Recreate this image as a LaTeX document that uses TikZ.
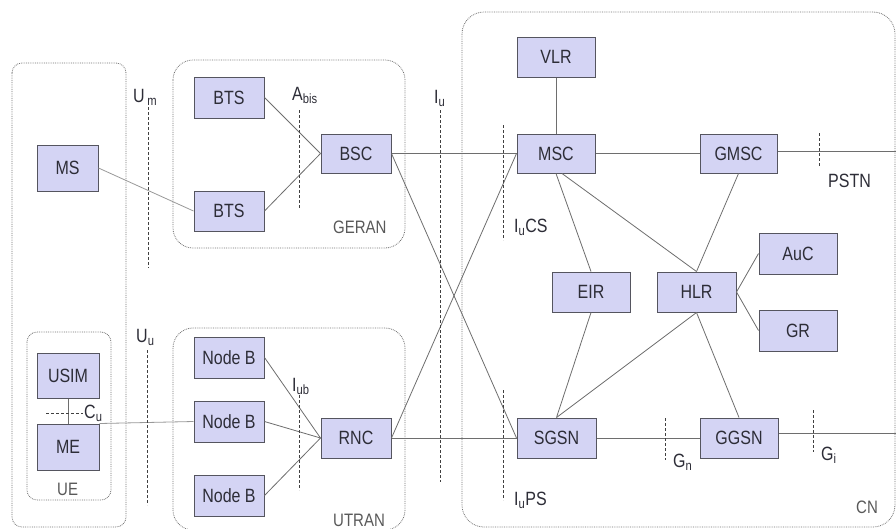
\documentclass[tikz,border=0pt]{standalone}
\usepackage{fontspec}
\usepackage{graphicx}
\setmainfont{Liberation Sans}
\definecolor{boxfill}{RGB}{212,212,244}
\definecolor{boxline}{RGB}{85,85,95}
\definecolor{wire}{RGB}{110,110,110}
\definecolor{labtext}{RGB}{45,45,55}
\newcommand{\tx}[1]{\scalebox{1}[1.2]{#1}}
\begin{document}
\begin{tikzpicture}[x=1pt,y=-1pt,
  nbox/.style={draw=boxline,fill=boxfill,line width=1pt,inner sep=0pt,
    text=labtext,font=\fontsize{16}{18}\selectfont},
  wline/.style={draw=wire,line width=0.8pt},
  ifdash/.style={draw=black!75,line width=0.9pt,dash pattern=on 3pt off 2pt},
  cont/.style={draw=black!55,line width=0.8pt,densely dotted},
  lab/.style={anchor=base west,inner sep=0pt,text=labtext,font=\fontsize{16}{18}\selectfont},
  clab/.style={anchor=base west,inner sep=0pt,text=black!65,font=\fontsize{15}{16}\selectfont}]
\useasboundingbox (0,0) rectangle (896,528);
\fill[white] (0,0) rectangle (896,528);
% containers
\draw[cont,rounded corners=10pt] (12,63) rectangle (126,527);
\draw[cont,rounded corners=10pt] (27,332) rectangle (111,500);
\draw[cont,rounded corners=20pt] (173,60) rectangle (405,248);
\draw[cont,rounded corners=20pt] (173,328) rectangle (405,530);
\draw[cont,rounded corners=22pt] (462,12) rectangle (895,527);
% nodes
\node[nbox,minimum width=61pt,minimum height=46pt] (MS) at (67.5,168) {\tx{MS}};
\node[nbox,minimum width=70pt,minimum height=41pt] (BTS1) at (229,97.5) {\tx{BTS}};
\node[nbox,minimum width=70pt,minimum height=40pt] (BTS2) at (229,211) {\tx{BTS}};
\node[nbox,minimum width=70pt,minimum height=39pt] (BSC) at (356,153.5) {\tx{BSC}};
\node[nbox,minimum width=62pt,minimum height=45pt] (USIM) at (68,375.5) {\tx{USIM}};
\node[nbox,minimum width=62pt,minimum height=46pt] (ME) at (68,447) {\tx{ME}};
\node[nbox,minimum width=70pt,minimum height=41pt] (NB1) at (229,357.5) {\tx{Node B}};
\node[nbox,minimum width=70pt,minimum height=41pt] (NB2) at (229,421.5) {\tx{Node B}};
\node[nbox,minimum width=70pt,minimum height=41pt] (NB3) at (229,495.5) {\tx{Node B}};
\node[nbox,minimum width=70pt,minimum height=40pt] (RNC) at (356,438) {\tx{RNC}};
\node[nbox,minimum width=78pt,minimum height=40pt] (VLR) at (556,57) {\tx{VLR}};
\node[nbox,minimum width=78pt,minimum height=39pt] (MSC) at (556,153.5) {\tx{MSC}};
\node[nbox,minimum width=77pt,minimum height=39pt] (GMSC) at (738.5,153.5) {\tx{GMSC}};
\node[nbox,minimum width=78pt,minimum height=41pt] (AuC) at (798,253.5) {\tx{AuC}};
\node[nbox,minimum width=78pt,minimum height=40pt] (EIR) at (591,292) {\tx{EIR}};
\node[nbox,minimum width=79pt,minimum height=40pt] (HLR) at (696.5,292) {\tx{HLR}};
\node[nbox,minimum width=78pt,minimum height=41pt] (GR) at (798,330.5) {\tx{GR}};
\node[nbox,minimum width=79pt,minimum height=40pt] (SGSN) at (556.5,438) {\tx{SGSN}};
\node[nbox,minimum width=78pt,minimum height=40pt] (GGSN) at (739,438) {\tx{GGSN}};
\coordinate (pstnend) at (896,151);
\coordinate (giend) at (896,433);
% connectors
\draw[wline,draw=black!40] (MS.east) -- (BTS2.west);
\draw[wline] (BTS1.east) -- (BSC.west);
\draw[wline] (BTS2.east) -- (BSC.west);
\draw[wline] (BSC.east) -- (MSC.west);
\draw[wline] (BSC.east) -- (SGSN.west);
\draw[wline] (RNC.east) -- (SGSN.west);
\draw[wline] (RNC.east) -- (MSC.west);
\draw[wline] (NB1.east) -- (RNC.west);
\draw[wline] (NB2.east) -- (RNC.west);
\draw[wline] (NB3.east) -- (RNC.west);
\draw[wline,draw=black!40] (ME.north east) -- (NB2.west);
\draw[wline] (USIM.south) -- (ME.north);
\draw[wline] (VLR.south) -- (MSC.north);
\draw[wline] (MSC.east) -- (GMSC.west);
\draw[wline] (GMSC.east |- pstnend) -- (pstnend);
\draw[wline] (MSC.south) -- (EIR.north);
\draw[wline] ([xshift=6pt]MSC.south) -- (HLR.north);
\draw[wline] (GMSC.south) -- (HLR.north);
\draw[wline] (HLR.east) -- (AuC.west);
\draw[wline] (HLR.east) -- (GR.west);
\draw[wline] (EIR.south) -- (SGSN.north);
\draw[wline] (HLR.south) -- (SGSN.north);
\draw[wline] (HLR.south) -- (GGSN.north);
\draw[wline] (SGSN.east) -- (GGSN.west);
\draw[wline] (GGSN.east |- giend) -- (giend);
% interface marks
\draw[ifdash] (148,107) -- (148,268);
\draw[ifdash] (147,350) -- (147,505);
\draw[ifdash] (299,110) -- (299,208);
\draw[ifdash] (299,395) -- (299,490);
\draw[ifdash] (440,110) -- (440,482);
\draw[ifdash] (503,125) -- (503,240);
\draw[ifdash] (503,390) -- (503,500);
\draw[ifdash] (819,133) -- (819,167);
\draw[ifdash] (665,418) -- (665,460);
\draw[ifdash] (813,410) -- (813,452);
\draw[ifdash] (46,413) -- (83,413);
% labels
\node[lab] (lUm) at (133,102) {\tx{U\,\textsubscript{m}}};
\node[lab] (lUu) at (136,342) {\tx{U\textsubscript{u}}};
\node[lab] (lAbis) at (292,100) {\tx{A\textsubscript{bis}}};
\node[lab] (lIub) at (292,391) {\tx{I\textsubscript{ub}}};
\node[lab] (lIu) at (434,103) {\tx{I\textsubscript{u}}};
\node[lab] (lIuCS) at (514,232) {\tx{I\textsubscript{u}CS}};
\node[lab] (lIuPS) at (514,505) {\tx{I\textsubscript{u}PS}};
\node[lab] (lGn) at (673,467) {\tx{G\textsubscript{n}}};
\node[lab] (lGi) at (821,460) {\tx{G\textsubscript{i}}};
\node[lab] (lPSTN) at (828,187) {\tx{PSTN}};
\node[lab] (lCu) at (84,418) {\tx{C\textsubscript{u}}};
\node[clab] (lGERAN) at (333,233) {\tx{GERAN}};
\node[clab] (lUTRAN) at (333,526) {\tx{UTRAN}};
\node[clab] (lUE) at (57,495) {\tx{UE}};
\node[clab] (lCN) at (856,513) {\tx{CN}};
\end{tikzpicture}
\end{document}
